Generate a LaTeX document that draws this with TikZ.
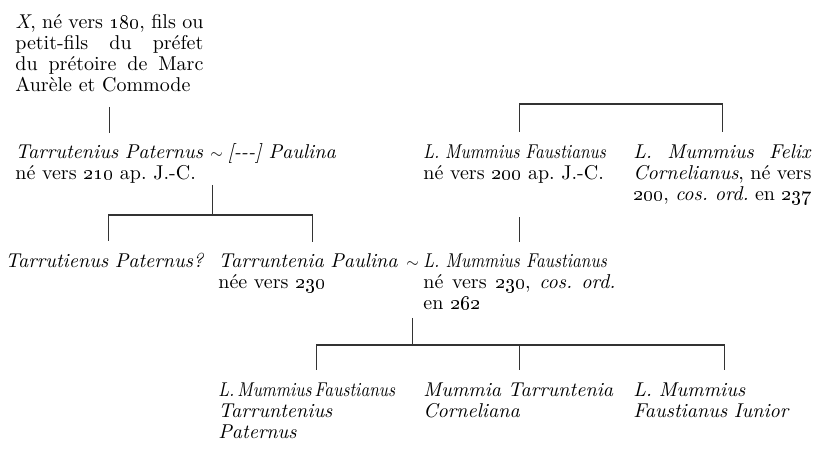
\documentclass[tikz,border=0pt]{standalone}
\usepackage{graphicx}
\usepackage{tikz}
\usetikzlibrary{positioning}
\newcommand{\nohyph}{\hyphenpenalty=10000\relax\frenchspacing}
\newcommand{\osn}[1]{\oldstylenums{#1}}
\newcommand{\squeezed}[1]{\scalebox{0.86}[1]{#1}}
\newcommand{\tie}{\scalebox{0.8}{$\sim$}}
\tikzset{
  persnode/.style={anchor=base west,inner sep=0pt,text width=#1,align=justify,
    font=\fontsize{10}{10.5}\selectfont\nohyph},
  persnode/.default=94pt,
  namenode/.style={anchor=base west,inner sep=0pt,text width=#1,align=left,
    font=\fontsize{10}{10.5}\selectfont\nohyph},
  namenode/.default=94pt,
  tienode/.style={anchor=base west,inner sep=0pt,font=\fontsize{10}{10.5}\selectfont},
  lineage/.style={line width=0.65pt,draw=black!80},
}

\begin{document}
\begin{tikzpicture}[x=0.5pt,y=-0.5pt]
  \useasboundingbox (0,0) rectangle (817,453);
  % first generation
  \node[persnode=94pt] (ancestor) at (15,29) {\textit{X}, né vers \osn{180}, fils ou\linebreak
    petit-fils du préfet\linebreak du prétoire de Marc\linebreak Aurèle et Commode};
  % second generation
  \node[namenode=94pt] (tarrutenius) at (15,159) {\textit{Tarrutenius Paternus}\\né vers \osn{210} ap. J.-C.};
  \node[tienode] (tieA) at (210,159) {\tie};
  \node[tienode,base right=2pt of tieA] (paulinaA) {\textit{[-{}-{}-] Paulina}};
  \node[namenode=96pt] (faustianusA) at (423,159) {\squeezed{\textit{L. Mummius Faustianus}}\\né vers \osn{200} ap. J.-C.};
  \node[persnode=89pt] (felix) at (633,159) {\textit{L. Mummius Felix}\linebreak
    \textit{Cornelianus}, né vers\linebreak \osn{200}, \textit{cos. ord.} en \osn{237}};
  % third generation
  \node[namenode=103pt] (tarrutienus) at (5,268) {\textit{Tarrutienus Paternus?}};
  \node[namenode=94pt] (tarruntenia) at (218,268) {\textit{Tarruntenia Paulina}\\née vers \osn{230}};
  \node[tienode] (tieB) at (406,268) {\tie};
  \node[persnode=96pt] (faustianusB) at (423,268) {\squeezed{\textit{L. Mummius Faustianus}}\newline
    né vers \osn{230}, \textit{cos. ord.}\linebreak en \osn{262}};
  % fourth generation
  \node[namenode=98pt] (faustianusC) at (218,396) {\squeezed{\textit{L.\,Mummius\,Faustianus}}\\\textit{Tarruntenius}\\\textit{Paternus}};
  \node[namenode=96pt] (mummia) at (423,396) {\textit{Mummia Tarruntenia}\\\textit{Corneliana}};
  \node[namenode=91pt] (iunior) at (633,396) {\textit{L. Mummius}\\\textit{Faustianus Iunior}};

  \coordinate (uA) at ([xshift=-2pt,yshift=-13pt]tieA.base);
  \coordinate (barA) at ([yshift=-15pt]uA);
  \coordinate (uB) at ([yshift=-25pt]tieB.base);
  \coordinate (barB) at ([yshift=-13.5pt]uB);

  \draw[lineage] ([yshift=-7pt]ancestor.south) -- ([yshift=6pt]tarrutenius.north);
  \draw[lineage] ([yshift=6.5pt]faustianusA.north) -- ++(0,14pt) -| ([yshift=6.5pt]felix.north);
  \draw[lineage] (uA) -- (barA);
  \draw[lineage] (barA) -| ([yshift=6pt]tarrutienus.north);
  \draw[lineage] (barA) -| ([yshift=6pt]tarruntenia.north);
  \draw[lineage] ([yshift=-16.5pt]faustianusA.south) -- ([yshift=6pt]faustianusB.north);
  \draw[lineage] (uB) -- (barB);
  \draw[lineage] (barB) -| ([yshift=6pt]faustianusC.north);
  \draw[lineage] (barB) -| ([yshift=6pt]mummia.north);
  \draw[lineage] (barB) -| ([yshift=6pt]iunior.north);
\end{tikzpicture}
\end{document}
